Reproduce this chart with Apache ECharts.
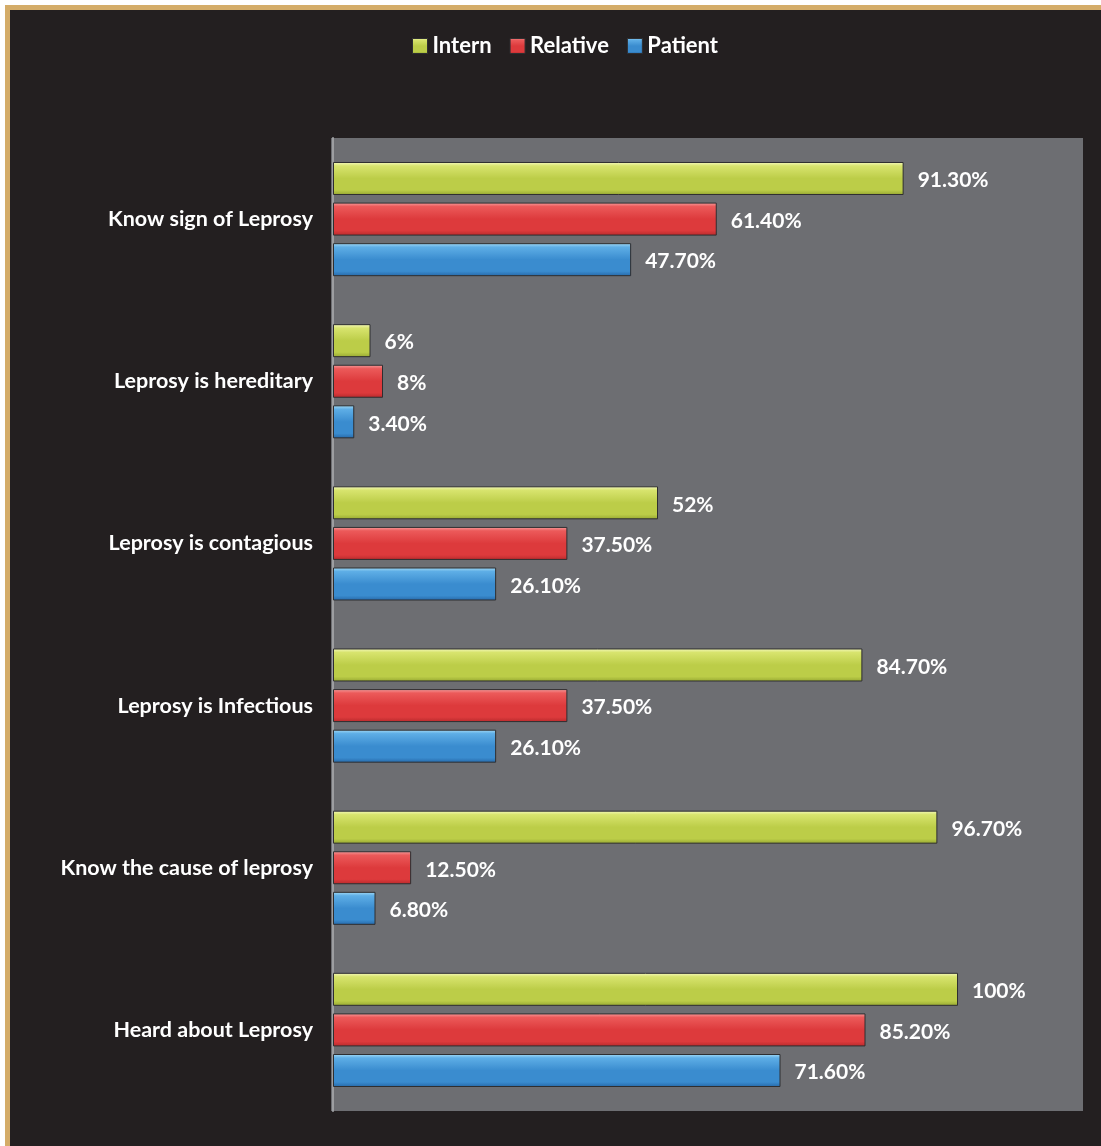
<!DOCTYPE html>
<html><head><meta charset="utf-8">
<script src="https://cdn.jsdelivr.net/npm/echarts@6/dist/echarts.min.js"></script>
<style>html,body{margin:0;padding:0;background:#fff}#c{width:1101px;height:1146px}</style>
</head><body><div id="c"></div>
<script>
const categories = ["Know sign of Leprosy","Leprosy is hereditary","Leprosy is contagious","Leprosy is Infectious","Know the cause of leprosy","Heard about Leprosy"];
const intern = [91.3, 6, 52, 84.7, 96.7, 100];
const relative = [61.4, 8, 37.5, 37.5, 12.5, 85.2];
const patient = [47.7, 3.4, 26.1, 26.1, 6.8, 71.6];
const seriesNames = ["Intern","Relative","Patient"];

const FONT = 'Lato';
function fmt(v){ return (Number.isInteger(v) ? v : v.toFixed(2)) + '%'; }
function grad(top, hi, mid, bot){
  return new echarts.graphic.LinearGradient(0,0,0,1,[
    {offset:0,color:top},{offset:0.12,color:hi},{offset:0.5,color:mid},{offset:0.85,color:mid},{offset:1,color:bot}
  ]);
}
const colors = [
  grad('#f6fac0','#d8e46e','#bccd48','#97a832'),
  grad('#f6a0a0','#ec5a5a','#dd3a3c','#b82a2c'),
  grad('#a6dcf6','#5eaee6','#3a8ccf','#2668a8')
];
const datas = [intern, relative, patient];
const chart = echarts.init(document.getElementById('c'), null, {renderer:'canvas'});
chart.setOption({
  backgroundColor:'#ffffff',
  animation:false,
  graphic:[
    {type:'rect', z:-10, silent:true, shape:{x:5,y:5,width:1096,height:1141}, style:{fill:'#d4ac68'}},
    {type:'rect', z:-9, silent:true, shape:{x:10,y:10,width:1091,height:1136}, style:{fill:'#231f20'}},
    {type:'rect', z:-8, silent:true, shape:{x:331,y:138,width:752,height:973}, style:{fill:'#6d6e72'}}
  ],
  legend:{
    top:30, left:407, itemWidth:15, itemHeight:15, itemGap:18,
    icon:'rect',
    itemStyle:{borderColor:'#2e2e30', borderWidth:1},
    textStyle:{color:'#ffffff', fontFamily:FONT, fontWeight:'bold', fontSize:22},
    data:seriesNames
  },
  grid:{left:333, top:138, right:18, bottom:35, show:false, containLabel:false},
  xAxis:{type:'value', min:0, max:120, show:false},
  yAxis:{type:'category', data:categories, inverse:true,
    axisLine:{show:true, lineStyle:{color:'#9d9ea1', width:2}},
    axisTick:{show:false}, splitLine:{show:false},
    axisLabel:{color:'#ffffff', fontFamily:FONT, fontWeight:'bold', fontSize:21.5, margin:20}
  },
  series: seriesNames.map((n,i)=>({
    name:n, type:'bar', data:datas[i], barWidth:33, barGap:'23%',
    itemStyle:{color:colors[i], borderColor:'#2e2e30', borderWidth:1},
    label:{show:true, position:'right', distance:14, offset:[0,2], color:'#ffffff', fontFamily:FONT, fontWeight:'bold', fontSize:21, formatter:p=>fmt(p.value)}
  }))
});
</script></body></html>
